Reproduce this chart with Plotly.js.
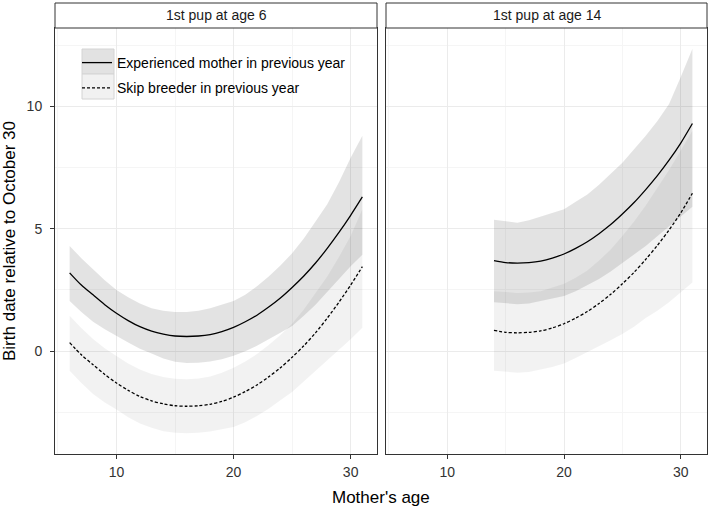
<!DOCTYPE html>
<html>
<head>
<meta charset="utf-8">
<script src="https://cdn.plot.ly/plotly-3.0.1.min.js"></script>
<style>html,body{margin:0;padding:0;background:#fff}#chart{width:709px;height:508px}</style>
</head>
<body>
<div id="chart"></div>
<script>
// ---- data ----
const panelTitles = ["1st pup at age 6", "1st pup at age 14"];
const seriesNames = ["Experienced mother in previous year", "Skip breeder in previous year"];

// Panel 1: first pup at age 6
const ages1 = [6,7,8,9,10,11,12,13,14,15,16,17,18,19,20,21,22,23,24,25,26,27,28,29,30,31];
const exp1 = [3.2,2.7,2.3,1.9,1.55,1.25,1.0,0.82,0.7,0.62,0.6,0.62,0.68,0.8,0.97,1.2,1.47,1.8,2.17,2.6,3.07,3.6,4.2,4.85,5.55,6.3];
const exp1Upper = [4.3,3.8,3.35,2.9,2.5,2.2,1.95,1.75,1.65,1.6,1.6,1.65,1.75,1.9,2.05,2.3,2.65,3.05,3.5,4.0,4.6,5.3,6.0,6.9,7.9,8.8];
const exp1Lower = [2.05,1.6,1.2,0.9,0.62,0.35,0.1,-0.1,-0.3,-0.43,-0.48,-0.47,-0.42,-0.33,-0.19,0.0,0.22,0.47,0.75,1.03,1.45,1.9,2.4,2.95,3.47,3.94];
const skip1 = [0.35,-0.15,-0.55,-0.95,-1.3,-1.6,-1.85,-2.03,-2.15,-2.23,-2.25,-2.23,-2.17,-2.05,-1.88,-1.65,-1.38,-1.05,-0.68,-0.25,0.22,0.75,1.35,2.0,2.7,3.45];
const skip1Upper = [1.45,0.95,0.5,0.12,-0.2,-0.5,-0.75,-0.93,-1.05,-1.13,-1.15,-1.12,-1.03,-0.88,-0.68,-0.42,-0.12,0.25,0.66,1.12,1.7,2.35,3.05,3.85,4.7,5.8];
const skip1Lower = [-0.8,-1.3,-1.75,-2.1,-2.38,-2.7,-2.95,-3.13,-3.27,-3.33,-3.35,-3.33,-3.28,-3.2,-3.1,-2.9,-2.65,-2.35,-2.0,-1.67,-1.25,-0.8,-0.35,0.05,0.49,0.96];

// Panel 2: first pup at age 14
const ages2 = [14,15,16,17,18,19,20,21,22,23,24,25,26,27,28,29,30,31];
const exp2 = [3.7,3.62,3.6,3.62,3.68,3.8,3.97,4.2,4.47,4.8,5.17,5.6,6.07,6.6,7.17,7.8,8.5,9.3];
const exp2Upper = [5.37,5.3,5.25,5.35,5.5,5.65,5.8,6.1,6.4,6.8,7.25,7.7,8.25,8.8,9.4,10.1,11.2,12.35];
const exp2Lower = [2.0,1.95,1.92,1.95,2.05,2.15,2.25,2.45,2.7,2.95,3.25,3.6,3.95,4.3,4.7,5.1,5.5,5.9];
const skip2 = [0.85,0.77,0.75,0.77,0.83,0.95,1.12,1.35,1.62,1.95,2.32,2.75,3.22,3.75,4.32,4.95,5.65,6.45];
const skip2Upper = [2.45,2.4,2.38,2.4,2.45,2.6,2.75,3.0,3.3,3.7,4.15,4.7,5.3,5.95,6.65,7.4,8.2,9.0];
const skip2Lower = [-0.8,-0.85,-0.88,-0.85,-0.75,-0.65,-0.5,-0.28,-0.05,0.2,0.45,0.7,1.0,1.35,1.65,2.0,2.4,2.8];

const xTicks = [10, 20, 30];
const yTicks = [0, 5, 10];

// ---- styles ----
const FONT = "Liberation Sans, Arial, Helvetica, sans-serif";
const expFill = "rgba(0,0,0,0.11)";
const skipFill = "rgba(0,0,0,0.05)";

function band(x, up, lo, fill, xa, ya) {
  return {
    x: x.concat(x.slice().reverse()),
    y: up.concat(lo.slice().reverse()),
    type: "scatter", mode: "lines", fill: "toself", fillcolor: fill,
    line: {width: 0}, hoverinfo: "skip", showlegend: false, xaxis: xa, yaxis: ya
  };
}
function line(x, y, dash, name, show, xa, ya, grp) {
  return {
    x: x, y: y, type: "scatter", mode: "lines", name: name,
    line: {color: "#000", width: 1.3, dash: dash, shape: "spline", smoothing: 0.8},
    showlegend: show, legendgroup: grp, xaxis: xa, yaxis: ya
  };
}

const traces = [
  band(ages1, exp1Upper, exp1Lower, expFill, "x", "y"),
  band(ages1, skip1Upper, skip1Lower, skipFill, "x", "y"),
  band(ages2, exp2Upper, exp2Lower, expFill, "x2", "y2"),
  band(ages2, skip2Upper, skip2Lower, skipFill, "x2", "y2"),
  line(ages1, exp1, "solid", seriesNames[0], true, "x", "y", "a"),
  line(ages1, skip1, "3px,2px", seriesNames[1], true, "x", "y", "b"),
  line(ages2, exp2, "solid", seriesNames[0], false, "x2", "y2", "a"),
  line(ages2, skip2, "3px,2px", seriesNames[1], false, "x2", "y2", "b")
];

const W = 709, H = 508;
const px = v => v / W, py = v => 1 - v / H;
const left1 = 55, right1 = 377, left2 = 386, right2 = 707;
const panelTop = 28, panelBottom = 454, stripTop = 3;

const xCommon = {
  range: [4.75, 32.25], tickvals: xTicks, ticks: "outside", ticklen: 4, tickwidth: 1, tickcolor: "#333",
  showgrid: true, gridcolor: "#ebebeb", gridwidth: 1,
  minor: {tickvals: [5, 15, 25], showgrid: true, gridcolor: "#f5f5f5", gridwidth: 1, ticks: ""},
  showline: true, mirror: true, linecolor: "#333", linewidth: 1, zeroline: false,
  tickfont: {family: FONT, size: 14, color: "#333"}, ticklabelstandoff: 1,
  automargin: false, fixedrange: true
};
const yCommon = {
  range: [-4.2, 13.2], tickvals: yTicks, showgrid: true, gridcolor: "#ebebeb", gridwidth: 1,
  minor: {tickvals: [-2.5, 2.5, 7.5, 12.5], showgrid: true, gridcolor: "#f5f5f5", gridwidth: 1, ticks: ""},
  showline: true, mirror: true, linecolor: "#333", linewidth: 1, zeroline: false,
  tickfont: {family: FONT, size: 14, color: "#333"}, automargin: false, fixedrange: true,
  domain: [py(panelBottom), py(panelTop)]
};

const layout = {
  width: W, height: H, margin: {l: 0, r: 0, t: 0, b: 0},
  paper_bgcolor: "#fff", plot_bgcolor: "#fff",
  font: {family: FONT, color: "#000"},
  xaxis: Object.assign({}, xCommon, {domain: [px(left1), px(right1)], anchor: "y"}),
  xaxis2: Object.assign({}, xCommon, {domain: [px(left2), px(right2)], anchor: "y2"}),
  yaxis: Object.assign({}, yCommon, {anchor: "x", ticks: "outside", ticklen: 4, tickcolor: "#333", ticklabelstandoff: 5,
    title: {text: "Birth date relative to October 30", font: {family: FONT, size: 17, color: "#000"}, standoff: 10}}),
  yaxis2: Object.assign({}, yCommon, {anchor: "x2", showticklabels: false, ticks: ""}),
  showlegend: true,
  legend: {
    x: px(77), y: py(47), xanchor: "left", yanchor: "top",
    bgcolor: "rgba(0,0,0,0)", borderwidth: 0,
    font: {family: FONT, size: 14, color: "#000"},
    traceorder: "grouped", tracegroupgap: 4, itemwidth: 30
  },
  shapes: [
    {type: "rect", xref: "paper", yref: "paper", x0: px(left1), x1: px(right1), y0: py(panelTop), y1: py(stripTop),
      fillcolor: "#fff", line: {color: "#333", width: 1}},
    {type: "rect", xref: "paper", yref: "paper", x0: px(left2), x1: px(right2), y0: py(panelTop), y1: py(stripTop),
      fillcolor: "#fff", line: {color: "#333", width: 1}},
    {type: "rect", xref: "paper", yref: "paper", x0: px(82), x1: px(114), y0: py(74), y1: py(49),
      fillcolor: "#e2e2e2", line: {color: "#d4d4d4", width: 1}, layer: "above"},
    {type: "rect", xref: "paper", yref: "paper", x0: px(82), x1: px(114), y0: py(99), y1: py(74),
      fillcolor: "#f1f1f1", line: {color: "#d4d4d4", width: 1}, layer: "above"}
  ],
  annotations: [
    {text: panelTitles[0], xref: "paper", yref: "paper", x: px((left1 + right1) / 2), y: py((stripTop + panelTop) / 2),
      showarrow: false, xanchor: "center", yanchor: "middle", font: {family: FONT, size: 14, color: "#1a1a1a"}},
    {text: panelTitles[1], xref: "paper", yref: "paper", x: px((left2 + right2) / 2), y: py((stripTop + panelTop) / 2),
      showarrow: false, xanchor: "center", yanchor: "middle", font: {family: FONT, size: 14, color: "#1a1a1a"}},
    {text: "Mother's age", xref: "paper", yref: "paper", x: px((left1 + right2) / 2), y: py(497),
      showarrow: false, xanchor: "center", yanchor: "middle", font: {family: FONT, size: 17, color: "#000"}}
  ]
};

Plotly.newPlot("chart", traces, layout, {displayModeBar: false, staticPlot: true});
</script>
</body>
</html>
